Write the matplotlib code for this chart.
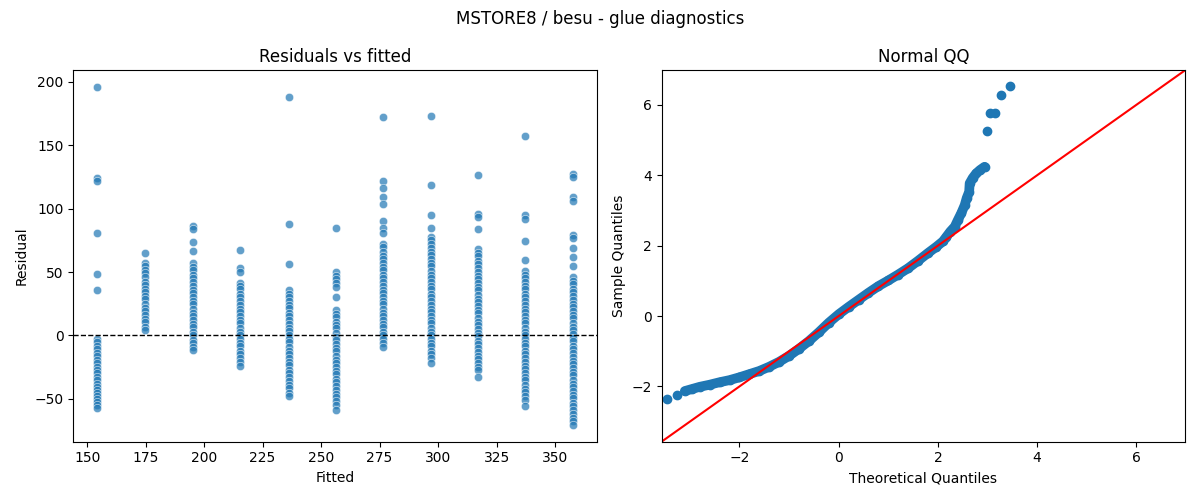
import numpy as np
import matplotlib
matplotlib.use("Agg")
import matplotlib.pyplot as plt
import seaborn as sns

# fitted levels and the residuals
fitted_levels = [154.3, 174.7, 195.1, 215.5, 236.4, 256.4, 276.4, 296.8, 317.2, 337.2, 357.7]

resid_154 = [195.8, 124.0, 121.5, 80.7, 48.3, 36.0, -2.5, -5.5, -8.0, -11.0, -13.5, -16.5, -19.0,
             -22.0, -24.5, -27.5, -30.0, -33.0, -35.0, -38.5, -40.5, -43.0, -45.5, -48.0, -50.5,
             -52.5, -54.5, -57.0]
resid_175 = [65.0, 57.5, 55.0, 51.5, 49.0, 46.0, 42.5, 40.0, 36.5, 34.0, 31.0, 28.5, 25.0, 22.0,
             19.5, 16.0, 13.0, 10.5, 7.0, 4.5]
resid_195 = [86.0, 84.0, 74.0, 67.0, 57.0, 54.0, 51.5, 48.0, 45.0, 42.5, 39.0, 36.0, 33.5, 30.0,
             27.0, 24.5, 21.0, 18.0, 15.5, 12.0, 9.0, 6.5, 3.0, 0.0, -3.5, -6.0, -9.0, -11.5]
resid_215 = [67.3, 53.5, 50.0, 41.7, 39.0, 36.5, 33.0, 30.0, 27.5, 24.0, 21.0, 18.5, 15.0, 12.0,
             9.5, 6.0, 3.0, 0.5, -3.0, -6.0, -8.5, -12.0, -15.0, -17.5, -21.0, -24.0]
resid_236 = [188.4, 87.7, 56.5, 36.0, 33.0, 30.5, 27.0, 24.0, 21.5, 18.0, 15.0, 12.5, 9.0, 6.0,
             3.5, 0.0, -3.0, -5.5, -9.0, -12.0, -14.5, -18.0, -21.0, -23.5, -27.0, -30.0, -32.5,
             -36.0, -39.0, -41.5, -45.0, -47.4]
resid_256 = [84.6, 50.0, 47.0, 44.5, 41.0, 38.0, 30.4, 20.0, 17.0, 14.5, 11.0, 8.0, 5.5, 2.0, -1.0,
             -3.5, -7.0, -10.0, -12.5, -16.0, -19.0, -21.5, -25.0, -28.0, -30.5, -34.0, -37.0,
             -39.5, -43.0, -46.0, -48.5, -52.0, -55.0, -58.7]
resid_276 = [172.0, 122.0, 116.0, 109.0, 104.0, 90.4, 84.6, 81.0, 72.0, 69.5, 66.0, 63.0, 60.5,
             57.0, 54.0, 51.5, 48.0, 45.0, 42.5, 39.0, 36.0, 33.5, 30.0, 27.0, 24.5, 21.0, 18.0,
             15.5, 12.0, 9.0, 6.5, 3.0, 0.0, -2.5, -6.0, -9.3]
resid_296 = [173.0, 118.5, 94.9, 84.9, 78.0, 75.0, 72.5, 69.0, 66.0, 63.5, 60.0, 57.0, 54.5, 51.0,
             48.0, 45.5, 42.0, 39.0, 36.5, 33.0, 30.0, 27.5, 24.0, 21.0, 18.5, 15.0, 12.0, 9.5,
             6.0, 3.0, 0.5, -3.0, -6.0, -8.5, -12.0, -15.0, -17.5, -21.4]
resid_317 = [126.4, 95.9, 93.3, 83.8, 68.3, 65.0, 62.5, 59.0, 56.0, 53.5, 50.0, 47.0, 44.5, 41.0,
             38.0, 35.5, 32.0, 29.0, 26.5, 23.0, 20.0, 17.5, 14.0, 11.0, 8.5, 5.0, 2.0, -0.5,
             -4.0, -7.0, -9.5, -13.0, -16.0, -18.5, -22.0, -25.0, -27.5, -32.4]
resid_337 = [157.2, 94.9, 91.7, 74.4, 59.6, 51.0, 48.0, 45.5, 42.0, 39.0, 36.5, 33.0, 30.0, 27.5,
             24.0, 21.0, 18.5, 15.0, 12.0, 9.5, 6.0, 3.0, 0.5, -3.0, -6.0, -8.5, -12.0, -15.0,
             -17.5, -21.0, -24.0, -26.5, -30.0, -33.0, -35.5, -39.0, -42.0, -44.5, -48.0, -51.0,
             -55.3]
resid_357 = [127.7, 125.3, 109.3, 106.2, 79.3, 76.7, 68.8, 62.2, 55.1, 46.5, 43.0, 40.5, 37.0,
             34.0, 31.5, 28.0, 25.0, 22.5, 19.0, 16.0, 13.5, 10.0, 7.0, 4.5, 1.0, -2.0, -4.5,
             -8.0, -11.0, -13.5, -17.0, -20.0, -22.5, -26.0, -29.0, -31.5, -35.0, -38.0, -40.5,
             -44.0, -47.0, -49.5, -53.0, -56.0, -58.5, -62.0, -65.0, -67.5, -70.5]

resid_columns = [resid_154, resid_175, resid_195, resid_215, resid_236, resid_256,
                 resid_276, resid_296, resid_317, resid_337, resid_357]

# normal QQ
qq_theoretical = [-3.45, -3.25, -3.10, -2.95, -2.80, -2.60, -2.40, -2.20, -2.00, -1.80, -1.60,
                  -1.40, -1.20, -1.00, -0.80, -0.60, -0.40, -0.20, 0.00, 0.20, 0.40, 0.60, 0.80,
                  1.00, 1.20, 1.40, 1.60, 1.80, 1.97, 2.10, 2.17, 2.25, 2.34, 2.40, 2.47, 2.54,
                  2.58, 2.63, 2.64, 2.70, 2.77, 2.85, 2.94, 2.99, 3.04, 3.15, 3.27, 3.45]
qq_sample = [-2.36, -2.24, -2.13, -2.07, -2.01, -1.95, -1.88, -1.82, -1.74, -1.65, -1.56,
             -1.44, -1.30, -1.13, -0.93, -0.71, -0.46, -0.19, 0.05, 0.26, 0.46, 0.66, 0.85,
             1.01, 1.18, 1.36, 1.57, 1.79, 1.97, 2.12, 2.25, 2.40, 2.54, 2.72, 2.92, 3.15,
             3.35, 3.53, 3.77, 3.92, 4.05, 4.15, 4.24, 5.26, 5.76, 5.76, 6.27, 6.53]

fitted = np.concatenate([[f] * len(r) for f, r in zip(fitted_levels, resid_columns)])
resid = np.concatenate(resid_columns)

fig, (ax1, ax2) = plt.subplots(1, 2, figsize=(12, 5), dpi=100)

sns.scatterplot(x=fitted, y=resid, alpha=0.7, ax=ax1)
ax1.axhline(0, color="black", linestyle="--", linewidth=1)
ax1.set_title("Residuals vs fitted")
ax1.set_xlabel("Fitted")
ax1.set_ylabel("Residual")

qx = np.array(qq_theoretical)
qy = np.array(qq_sample)
band = (qx > -3.2) & (qy < 4.5)
ax2.plot(qx[band], qy[band], color="C0", linewidth=7, solid_capstyle="round")
ax2.plot(qx, qy, "o", color="C0", markersize=6)
lims = [-3.57, 6.98]
ax2.set_xlim(lims)
ax2.set_ylim(lims)
ax2.plot(lims, lims, "r-")
ax2.set_title("Normal QQ")
ax2.set_xlabel("Theoretical Quantiles")
ax2.set_ylabel("Sample Quantiles")

fig.suptitle("MSTORE8 / besu - glue diagnostics")
fig.tight_layout()
fig.savefig("out.png")
